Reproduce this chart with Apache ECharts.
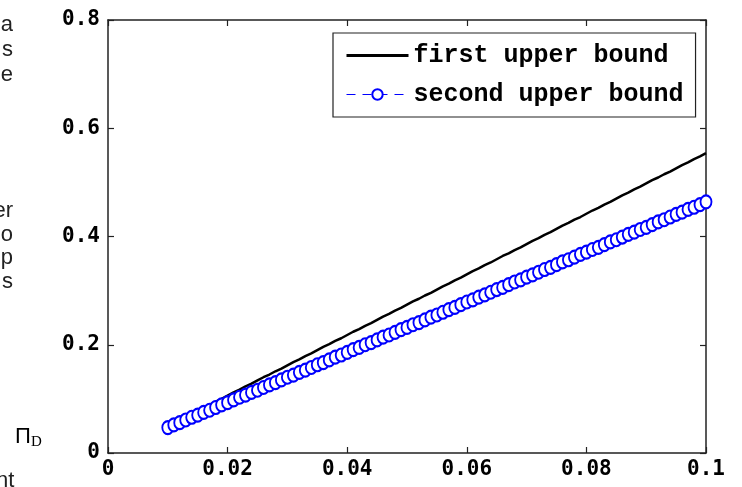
<!DOCTYPE html>
<html>
<head>
<meta charset="utf-8">
<script src="https://cdn.jsdelivr.net/npm/echarts@6/dist/echarts.min.js"></script>
<style>html,body{margin:0;padding:0;background:#fff}#c{width:742px;height:487px}</style>
</head>
<body>
<div id="c"></div>
<script>
var xValues = [0.010,0.011,0.012,0.013,0.014,0.015,0.016,0.017,0.018,0.019,
0.020,0.021,0.022,0.023,0.024,0.025,0.026,0.027,0.028,0.029,
0.030,0.031,0.032,0.033,0.034,0.035,0.036,0.037,0.038,0.039,
0.040,0.041,0.042,0.043,0.044,0.045,0.046,0.047,0.048,0.049,
0.050,0.051,0.052,0.053,0.054,0.055,0.056,0.057,0.058,0.059,
0.060,0.061,0.062,0.063,0.064,0.065,0.066,0.067,0.068,0.069,
0.070,0.071,0.072,0.073,0.074,0.075,0.076,0.077,0.078,0.079,
0.080,0.081,0.082,0.083,0.084,0.085,0.086,0.087,0.088,0.089,
0.090,0.091,0.092,0.093,0.094,0.095,0.096,0.097,0.098,0.099,0.100];

var firstBound = [0.050,0.056,0.061,0.067,0.072,0.078,0.084,0.089,0.095,0.100,
0.106,0.112,0.117,0.123,0.128,0.134,0.140,0.145,0.151,0.156,
0.162,0.168,0.173,0.179,0.184,0.190,0.196,0.201,0.207,0.212,
0.218,0.224,0.229,0.235,0.240,0.246,0.252,0.257,0.263,0.268,
0.274,0.280,0.285,0.291,0.296,0.302,0.308,0.313,0.319,0.324,
0.330,0.336,0.341,0.347,0.352,0.358,0.364,0.369,0.375,0.380,
0.386,0.392,0.397,0.403,0.408,0.414,0.420,0.425,0.431,0.436,
0.442,0.448,0.453,0.459,0.464,0.470,0.476,0.481,0.487,0.492,
0.498,0.504,0.509,0.515,0.520,0.526,0.532,0.537,0.543,0.548,0.554];

var secondBound = [0.047,0.052,0.056,0.061,0.066,0.070,0.075,0.079,0.084,0.089,
0.093,0.098,0.103,0.107,0.112,0.116,0.121,0.126,0.130,0.135,
0.140,0.144,0.149,0.153,0.158,0.163,0.167,0.172,0.177,0.181,
0.186,0.191,0.195,0.200,0.204,0.209,0.214,0.218,0.223,0.228,
0.232,0.237,0.241,0.246,0.251,0.255,0.260,0.265,0.269,0.274,
0.279,0.283,0.288,0.292,0.297,0.302,0.306,0.311,0.316,0.320,
0.325,0.329,0.334,0.339,0.343,0.348,0.353,0.357,0.362,0.367,
0.371,0.376,0.380,0.385,0.390,0.394,0.399,0.404,0.408,0.413,
0.417,0.422,0.427,0.431,0.436,0.441,0.445,0.450,0.454,0.459,0.464];

var seriesNames = ['first upper bound', 'second upper bound'];

function pairs(xs, ys) { var out = []; for (var i = 0; i < xs.length; i++) out.push([xs[i], ys[i]]); return out; }

var chart = echarts.init(document.getElementById('c'), null, {renderer: 'canvas'});
var tickFont = {fontFamily: 'DejaVu Sans Mono', fontWeight: 'bold', fontSize: 21, color: '#000'};
var axisLine = {show: true, onZero: false, lineStyle: {color: '#222', width: 1.5}};
var tick = {show: true, inside: true, length: 6, lineStyle: {color: '#222', width: 1.2}};
var bodyFont = {fontFamily: 'Liberation Sans', fontSize: 22, fill: '#222'};

chart.setOption({
  animation: false,
  backgroundColor: '#fff',
  grid: {left: 108, right: 36, top: 20, bottom: 34, containLabel: false},
  xAxis: [
    {type: 'value', min: 0, max: 0.1, interval: 0.02, position: 'bottom',
     axisLine: axisLine, axisTick: tick, splitLine: {show: false},
     axisLabel: Object.assign({margin: 6}, tickFont)},
    {type: 'value', min: 0, max: 0.1, interval: 0.02, position: 'top',
     axisLine: axisLine, axisTick: tick, splitLine: {show: false}, axisLabel: {show: false}}
  ],
  yAxis: [
    {type: 'value', min: 0, max: 0.8, interval: 0.2, position: 'left',
     axisLine: axisLine, axisTick: tick, splitLine: {show: false},
     axisLabel: Object.assign({margin: 8}, tickFont)},
    {type: 'value', min: 0, max: 0.8, interval: 0.2, position: 'right',
     axisLine: axisLine, axisTick: tick, splitLine: {show: false}, axisLabel: {show: false}}
  ],
  legend: {
    orient: 'vertical', left: 333, top: 33,
    padding: [10, 12, 10, 12], itemGap: 14, itemWidth: 62, itemHeight: 13,
    backgroundColor: '#fff', borderColor: '#222', borderWidth: 1.2,
    textStyle: {fontFamily: 'Liberation Mono', fontWeight: 'bold', fontSize: 25, color: '#000'},
    data: [
      {name: seriesNames[0], itemStyle: {opacity: 0}, lineStyle: {width: 3, color: '#000'}},
      {name: seriesNames[1], lineStyle: {type: [9, 7], width: 1.2}}
    ]
  },
  series: [
    {name: seriesNames[0], type: 'line', data: pairs(xValues, firstBound),
     showSymbol: false, symbol: 'none', color: '#000',
     lineStyle: {color: '#000', width: 2.5}, z: 2},
    {name: seriesNames[1], type: 'line', data: pairs(xValues, secondBound),
     symbol: 'emptyCircle', symbolSize: [11, 13], color: '#0000ff',
     itemStyle: {color: '#0000ff', borderColor: '#0000ff', borderWidth: 1.4},
     lineStyle: {color: '#0000ff', width: 1, type: [6, 4]}, z: 3}
  ],
  graphic: [
    {type: 'text', right: 729, top: 14, style: Object.assign({text: 'a'}, bodyFont)},
    {type: 'text', right: 729, top: 39, style: Object.assign({text: 's'}, bodyFont)},
    {type: 'text', right: 729, top: 64, style: Object.assign({text: 'e'}, bodyFont)},
    {type: 'text', right: 729, top: 200, style: Object.assign({text: 'er'}, bodyFont)},
    {type: 'text', right: 729, top: 224, style: Object.assign({text: 'o'}, bodyFont)},
    {type: 'text', right: 729, top: 247, style: Object.assign({text: 'p'}, bodyFont)},
    {type: 'text', right: 729, top: 271, style: Object.assign({text: 's'}, bodyFont)},
    {type: 'text', left: 15, top: 426, style: {text: '{a|Π}{b|D}', rich: {
      a: {fontFamily: 'Liberation Sans', fontSize: 22, color: '#111'},
      b: {fontFamily: 'Liberation Serif', fontSize: 15, color: '#111', padding: [10, 0, 0, 0]}}}},
    {type: 'text', left: -4, top: 470, style: Object.assign({text: 'nt'}, bodyFont)}
  ]
});
</script>
</body>
</html>
